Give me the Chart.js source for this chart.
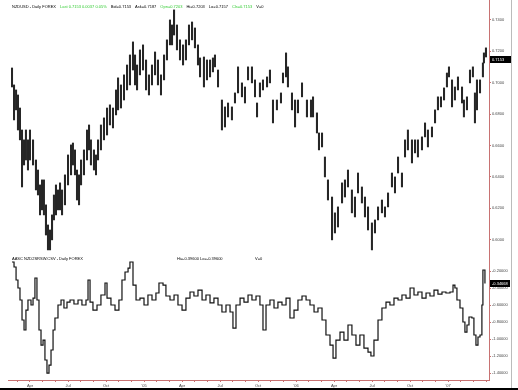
<!DOCTYPE html>
<html>
<head>
<meta charset="utf-8">
<script src="https://cdn.jsdelivr.net/npm/chart.js@4"></script>
<style>
html, body { margin: 0; padding: 0; background: #fff; }
#wrap { position: relative; width: 518px; height: 390px; overflow: hidden; font-family: "Liberation Sans", Arial, sans-serif; }
#top { position: absolute; left: 0; top: 0; }
#bot { position: absolute; left: 0; top: 254px; }
.hd { position: absolute; font-size: 4px; line-height: 4px; white-space: nowrap; color: #000; }
.hd span { margin-right: 4px; }
.g { color: #33cc33; }
#frameR { position: absolute; left: 511px; top: 0; width: 1px; height: 388px; background: #bbb; }
#frameB { position: absolute; left: 0; top: 388px; width: 518px; height: 2px; background: #000; }
</style>
</head>
<body>
<div id="wrap">
  <canvas id="top" width="518" height="254"></canvas>
  <canvas id="bot" width="518" height="136"></canvas>
  <div id="frameR"></div>
  <div id="frameB"></div>

  <div class="hd" style="left:12px;top:5px"><span>NZDUSD - Daily FOREX</span><span class="g">Last 0.7153 0.0037 0.05%</span><span>Bid=0.7153</span><span>Ask=0.7187</span><span class="g">Opn=0.7203</span><span>Hi=0.7203</span><span>Lo=0.7157</span><span class="g">Cls=0.7153</span><span>V=0</span></div>

  <div class="hd" style="left:12px;top:257px">AASC NZD2SRSW.CSV - Daily FOREX</div>
  <div class="hd" style="left:177px;top:257px">Hi=-0.39600 Lo=-0.39600</div>
  <div class="hd" style="left:255px;top:257px">V=0</div>
</div>

<script>
// NZDUSD daily bars (time in months since Jan 2004)
const barMonths = [
  1.58,1.74,1.90,2.05,2.21,2.37,2.53,2.68,2.84,3.00,
  3.24,3.47,3.63,3.79,3.95,4.10,4.26,4.42,4.58,4.74,
  4.89,5.05,5.21,5.37,5.53,5.76,6.00,6.24,6.39,6.55,
  6.71,6.87,7.03,7.26,7.50,7.66,7.81,8.05,8.21,8.37,
  8.60,8.84,9.08,9.31,9.55,9.79,9.95,10.18,10.42,10.66,
  10.89,11.13,11.29,11.45,11.68,11.92,12.16,12.39,12.63,12.87,
  13.10,13.34,13.58,13.81,14.05,14.21,14.37,14.60,14.84,15.08,
  15.31,15.55,15.79,16.02,16.26,16.42,16.73,16.97,17.21,17.44,
  17.60,17.84,18.15,18.39,18.63,18.94,19.18,19.42,19.73,19.97,
  20.21,20.52,20.76,20.92,21.15,21.39,21.71,21.94,22.18,22.49,
  22.81,22.97,23.21,23.36,23.68,23.92,24.15,24.47,24.86,25.18,
  25.34,25.65,25.81,26.05,26.28,26.52,26.84,27.07,27.31,27.63,
  27.86,28.10,28.41,28.65,28.89,29.20,29.44,29.68,29.99,30.23,
  30.47,30.78,31.02,31.26,31.57,31.81,32.05,32.36,32.60,32.83,
  33.15,33.39,33.62,33.94,34.18,34.41,34.73,34.97,35.20,35.44,
  35.68,35.91,36.07,36.31,36.54,36.78,37.10,37.25,37.49,37.73,
  37.96,38.12,38.28,38.52,38.75,38.83,38.99
];
const barHighs = [
  0.7094,0.6986,0.6954,0.6922,0.6839,0.6699,0.6636,0.6699,0.6636,0.6699,
  0.6636,0.6508,0.6444,0.6349,0.6381,0.6381,0.6222,0.6094,0.6062,0.6158,
  0.6285,0.6349,0.6317,0.6362,0.6317,0.6413,0.6540,0.6604,0.6616,0.6572,
  0.6444,0.6413,0.6508,0.6572,0.6699,0.6731,0.6636,0.6572,0.6540,0.6636,
  0.6731,0.6776,0.6839,0.6859,0.6839,0.6954,0.7031,0.6986,0.7050,0.7113,
  0.7177,0.7260,0.7177,0.7113,0.7209,0.7241,0.7145,0.7050,0.7113,0.7196,
  0.7145,0.7050,0.7177,0.7273,0.7400,0.7368,0.7464,0.7368,0.7273,0.7241,
  0.7273,0.7368,0.7387,0.7349,0.7241,0.7158,0.7164,0.7145,0.7145,0.7158,
  0.7177,0.7081,0.6890,0.6846,0.6871,0.6846,0.6935,0.7101,0.6999,0.6973,
  0.7101,0.7101,0.7018,0.6871,0.6999,0.7018,0.7037,0.7081,0.6890,0.6890,
  0.6935,0.7062,0.7190,0.7101,0.6935,0.6890,0.6890,0.6999,0.6890,0.6890,
  0.6910,0.6808,0.6680,0.6680,0.6527,0.6381,0.6272,0.6171,0.6209,0.6362,
  0.6381,0.6444,0.6317,0.6272,0.6425,0.6336,0.6272,0.6209,0.6107,0.6126,
  0.6209,0.6253,0.6209,0.6298,0.6425,0.6400,0.6527,0.6425,0.6636,0.6699,
  0.6636,0.6636,0.6636,0.6655,0.6744,0.6699,0.6718,0.6827,0.6910,0.6910,
  0.6967,0.7062,0.7101,0.7018,0.6973,0.7037,0.6973,0.6890,0.6910,0.7081,
  0.7101,0.6935,0.7018,0.7018,0.7126,0.7190,0.7222
];
const barLows = [
  0.6973,0.6763,0.6827,0.6699,0.6636,0.6336,0.6476,0.6508,0.6444,0.6508,
  0.6476,0.6317,0.6285,0.6158,0.6190,0.6158,0.6030,0.5935,0.5935,0.5999,
  0.6126,0.6158,0.6190,0.6190,0.6158,0.6222,0.6349,0.6413,0.6476,0.6413,
  0.6253,0.6222,0.6349,0.6413,0.6508,0.6572,0.6476,0.6444,0.6413,0.6508,
  0.6572,0.6636,0.6667,0.6731,0.6712,0.6795,0.6827,0.6839,0.6890,0.6954,
  0.6986,0.7081,0.6986,0.6954,0.7050,0.7081,0.6954,0.6922,0.6986,0.7050,
  0.6986,0.6922,0.7018,0.7145,0.7241,0.7241,0.7304,0.7209,0.7145,0.7113,
  0.7145,0.7241,0.7273,0.7222,0.7113,0.7037,0.6973,0.7018,0.7037,0.7069,
  0.7101,0.6973,0.6699,0.6718,0.6782,0.6763,0.6871,0.6935,0.6910,0.6871,
  0.7018,0.6999,0.6910,0.6782,0.6910,0.6954,0.6973,0.6999,0.6744,0.6827,
  0.6871,0.6999,0.7037,0.6973,0.6827,0.6718,0.6808,0.6910,0.6782,0.6782,
  0.6782,0.6680,0.6572,0.6591,0.6400,0.6253,0.5999,0.6043,0.6081,0.6234,
  0.6272,0.6336,0.6171,0.6145,0.6298,0.6234,0.6145,0.6062,0.5935,0.6043,
  0.6126,0.6171,0.6145,0.6209,0.6336,0.6298,0.6425,0.6336,0.6527,0.6572,
  0.6489,0.6553,0.6527,0.6572,0.6655,0.6591,0.6655,0.6744,0.6827,0.6846,
  0.6890,0.6973,0.7037,0.6846,0.6890,0.6954,0.6871,0.6782,0.6827,0.6999,
  0.7037,0.6744,0.6827,0.6935,0.7037,0.7126,0.7164
];

// AASC NZD2SRSW indicator (lower panel)
const oscMonths = [
  1.58,1.74,1.90,2.05,2.21,2.37,2.53,2.68,2.84,3.08,
  3.24,3.39,3.55,3.71,3.87,4.03,4.18,4.34,4.50,4.66,
  4.82,4.97,5.21,5.45,5.68,5.92,6.16,6.47,6.79,7.10,
  7.42,7.58,7.74,7.97,8.29,8.60,8.92,9.08,9.39,9.71,
  10.02,10.26,10.50,10.74,10.89,11.13,11.37,11.68,12.00,12.31,
  12.63,12.94,13.18,13.50,13.73,14.05,14.37,14.68,15.00,15.31,
  15.63,15.94,16.26,16.58,16.89,17.21,17.52,17.84,18.15,18.47,
  18.79,19.02,19.26,19.58,19.89,20.21,20.52,20.84,21.15,21.39,
  21.63,21.94,22.26,22.57,22.89,23.21,23.52,23.84,24.15,24.47,
  24.79,25.10,25.42,25.73,26.05,26.36,26.68,26.92,27.15,27.47,
  27.78,28.10,28.41,28.73,29.04,29.36,29.68,29.91,30.15,30.47,
  30.78,31.10,31.41,31.73,32.05,32.36,32.68,33.00,33.31,33.62,
  33.94,34.26,34.57,34.89,35.20,35.52,35.83,36.15,36.39,36.54,
  36.70,36.94,37.17,37.33,37.49,37.65,37.88,38.04,38.20,38.36,
  38.52,38.67,38.75,38.91
];
const oscValues = [
  -0.094,-0.153,-0.306,-0.400,-0.541,-0.776,-0.894,-0.659,-0.541,-0.600,
  -0.518,-0.282,-0.541,-0.894,-1.071,-1.012,-1.247,-1.400,-1.306,-1.129,
  -0.894,-0.753,-0.600,-0.541,-0.635,-0.565,-0.541,-0.588,-0.541,-0.600,
  -0.541,-0.306,-0.565,-0.659,-0.600,-0.482,-0.341,-0.518,-0.600,-0.659,
  -0.541,-0.306,-0.212,-0.165,-0.094,-0.365,-0.541,-0.518,-0.600,-0.482,
  -0.541,-0.459,-0.341,-0.365,-0.494,-0.541,-0.482,-0.600,-0.659,-0.518,
  -0.447,-0.494,-0.424,-0.541,-0.482,-0.576,-0.518,-0.600,-0.682,-0.600,
  -0.682,-0.871,-0.600,-0.518,-0.565,-0.482,-0.541,-0.494,-0.600,-0.894,
  -0.600,-0.541,-0.635,-0.565,-0.600,-0.518,-0.753,-0.659,-0.541,-0.494,
  -0.541,-0.600,-0.682,-0.635,-0.776,-0.953,-1.071,-1.224,-1.012,-0.918,
  -1.012,-0.835,-0.953,-1.071,-0.953,-1.106,-1.153,-1.200,-1.012,-0.776,
  -0.635,-0.565,-0.600,-0.518,-0.541,-0.482,-0.518,-0.400,-0.482,-0.447,
  -0.518,-0.459,-0.494,-0.424,-0.471,-0.447,-0.459,-0.447,-0.365,-0.400,
  -0.541,-0.635,-0.800,-0.918,-0.835,-0.741,-0.753,-0.953,-1.071,-0.976,
  -0.953,-0.600,-0.188,-0.347
];

const lastClose = 0.7153;
const lastOsc = -0.34668;

// axis ticks
const priceTicks = [0.60, 0.62, 0.64, 0.66, 0.68, 0.70, 0.72, 0.74];
const oscTicks = [-1.4, -1.2, -1.0, -0.8, -0.6, -0.4, -0.2];
const quarterMonths = [3, 6, 9, 12, 15, 18, 21, 24, 27, 30, 33, 36];
const quarterLabels = ['Apr', 'Jul', 'Oct', "'05", 'Apr', 'Jul', 'Oct', "'06", 'Apr', 'Jul', 'Oct', "'07"];

const monthMin = 1.264, monthMax = 39.23;
const axisRed = '#c87272';
const fontFam = '"Liberation Sans", Arial, sans-serif';
Chart.defaults.font.family = fontFam;

const priceBars = barMonths.map((m, i) => ({ x: m, y: [barLows[i], barHighs[i]] }));
const oscPoints = oscMonths.map((m, i) => ({ x: m, y: oscValues[i] }));

const monthTicks = [];
for (let m = Math.ceil(monthMin); m <= monthMax; m++) monthTicks.push(m);

function fitY(scale) {
    scale.width = 29;
    scale.paddingTop = 0;
    scale.paddingBottom = 0;
}

// black box with the last value on the price axis
const lastTag = {
    id: 'lastTag',
    afterDraw(chart, args, opts) {
        const ctx = chart.ctx;
        const y = Math.round(chart.scales.y.getPixelForValue(opts.value));
        const x = chart.chartArea.right + 1;
        ctx.save();
        ctx.fillStyle = '#000';
        ctx.fillRect(x, y - 3, opts.width, 7);
        ctx.fillStyle = '#fff';
        ctx.font = '4px ' + fontFam;
        ctx.textBaseline = 'middle';
        ctx.fillText(opts.text, x + 2, y + 0.5);
        ctx.restore();
    }
};

function yAxis(min, max, ticks, digits) {
    return {
        position: 'right',
        min: min,
        max: max,
        afterBuildTicks: s => { s.ticks = ticks.map(v => ({ value: v })); },
        afterFit: fitY,
        border: { color: axisRed },
        grid: { drawOnChartArea: false, color: axisRed, tickLength: 2 },
        ticks: {
            font: { size: 4 },
            color: '#444',
            padding: 1,
            callback: v => v.toFixed(digits)
        }
    };
}

// Price panel
new Chart(document.getElementById('top'), {
    type: 'bar',
    data: {
        datasets: [{
            data: priceBars,
            backgroundColor: '#262626',
            borderWidth: 0,
            barThickness: 1.4
        }]
    },
    options: {
        responsive: false,
        animation: false,
        layout: { padding: { left: 8 } },
        plugins: {
            legend: { display: false },
            tooltip: { enabled: false },
            lastTag: { value: lastClose, text: lastClose.toFixed(4), width: 21 }
        },
        scales: {
            x: { type: 'linear', display: false, offset: false, min: monthMin, max: monthMax },
            y: yAxis(0.5909, 0.7527, priceTicks, 4)
        }
    },
    plugins: [lastTag]
});

// Indicator panel
new Chart(document.getElementById('bot'), {
    type: 'line',
    data: {
        datasets: [{
            data: oscPoints,
            borderColor: '#111',
            borderWidth: 1.2,
            pointRadius: 0,
            stepped: true
        }]
    },
    options: {
        responsive: false,
        animation: false,
        layout: { padding: { left: 8 } },
        plugins: {
            legend: { display: false },
            tooltip: { enabled: false },
            lastTag: { value: lastOsc, text: lastOsc.toFixed(5), width: 20 }
        },
        scales: {
            x: {
                type: 'linear',
                min: monthMin,
                max: monthMax,
                afterBuildTicks: s => { s.ticks = monthTicks.map(v => ({ value: v })); },
                afterFit: s => { s.height = 10; s.paddingLeft = 0; s.paddingRight = 0; },
                border: { color: axisRed },
                grid: { drawOnChartArea: false, color: axisRed, tickLength: 2 },
                ticks: {
                    autoSkip: false,
                    maxRotation: 0,
                    font: { size: 4 },
                    color: '#444',
                    padding: 1,
                    callback: v => {
                        const i = quarterMonths.indexOf(v);
                        return i >= 0 ? quarterLabels[i] : '';
                    }
                }
            },
            y: yAxis(-1.482, 0.0, oscTicks, 5)
        }
    },
    plugins: [lastTag]
});
</script>
</body>
</html>
